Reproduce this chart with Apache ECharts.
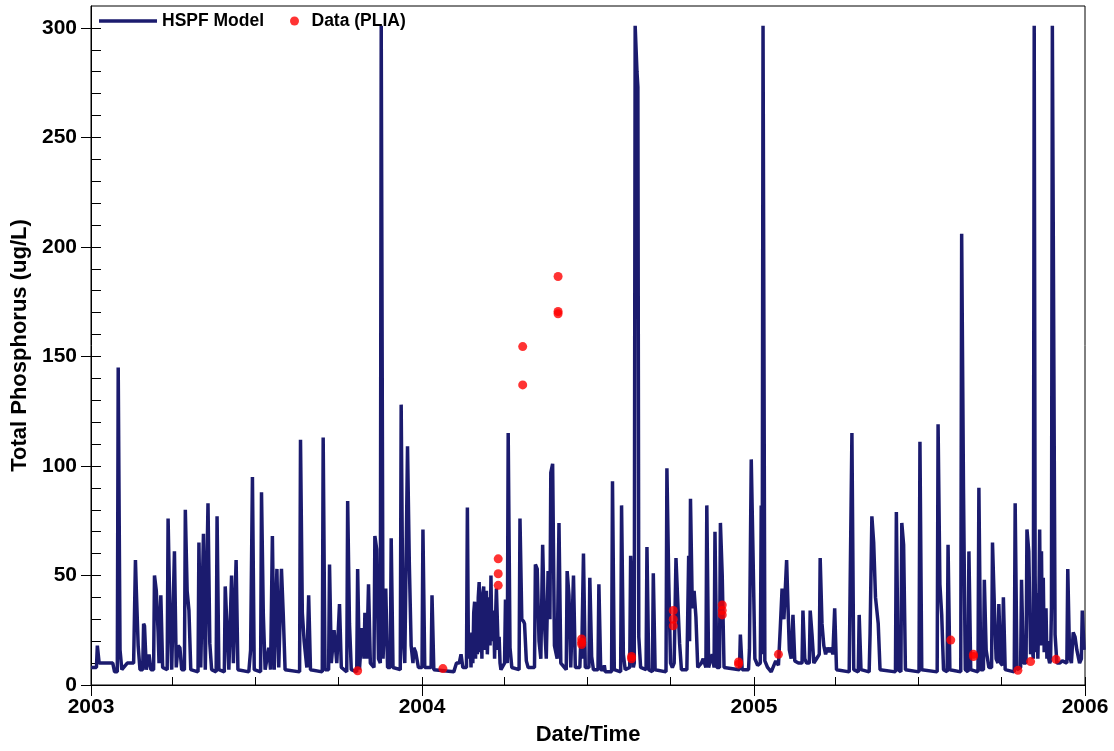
<!DOCTYPE html>
<html>
<head>
<meta charset="utf-8">
<script src="https://cdn.jsdelivr.net/npm/echarts@6/dist/echarts.min.js"></script>
<style>
  html, body { margin: 0; background: #fff; }
  #chart { width: 1114px; height: 751px; }
</style>
</head>
<body>
<div id="chart"></div>
<script>
// HSPF model, total phosphorus (ug/L)
const hspfModel = [
  ['2003-01-01', 8], ['2003-01-07', 8], ['2003-01-08', 18], ['2003-01-10', 10], ['2003-01-25', 10], ['2003-01-27', 6],
  ['2003-01-30', 6], ['2003-01-31', 145], ['2003-02-02', 16], ['2003-02-04', 7], ['2003-02-10', 10], ['2003-02-17', 10],
  ['2003-02-19', 57], ['2003-02-20', 43], ['2003-02-22', 18], ['2003-02-24', 7], ['2003-02-27', 7], ['2003-02-28', 28],
  ['2003-03-01', 27], ['2003-03-03', 7], ['2003-03-06', 14], ['2003-03-08', 7], ['2003-03-11', 7], ['2003-03-12', 50],
  ['2003-03-14', 43], ['2003-03-16', 24], ['2003-03-17', 10], ['2003-03-19', 41], ['2003-03-21', 8], ['2003-03-26', 7],
  ['2003-03-27', 76], ['2003-03-29', 33], ['2003-03-31', 7], ['2003-04-03', 61], ['2003-04-05', 8], ['2003-04-07', 18],
  ['2003-04-09', 17], ['2003-04-11', 7], ['2003-04-14', 7], ['2003-04-15', 80], ['2003-04-17', 43], ['2003-04-19', 34],
  ['2003-04-21', 7], ['2003-04-29', 6], ['2003-04-30', 65], ['2003-05-02', 8], ['2003-05-05', 69], ['2003-05-07', 7],
  ['2003-05-10', 83], ['2003-05-12', 19], ['2003-05-14', 7], ['2003-05-19', 6], ['2003-05-20', 77], ['2003-05-22', 7],
  ['2003-05-28', 6], ['2003-05-29', 45], ['2003-05-31', 26], ['2003-06-02', 7], ['2003-06-05', 50], ['2003-06-07', 10],
  ['2003-06-10', 57], ['2003-06-12', 7], ['2003-06-24', 6], ['2003-06-26', 16], ['2003-06-28', 95], ['2003-06-30', 7],
  ['2003-07-07', 6], ['2003-07-08', 88], ['2003-07-10', 32], ['2003-07-12', 7], ['2003-07-16', 17], ['2003-07-18', 7],
  ['2003-07-20', 68], ['2003-07-22', 7], ['2003-07-25', 53], ['2003-07-27', 8], ['2003-07-30', 53], ['2003-08-01', 32],
  ['2003-08-03', 7], ['2003-08-19', 6], ['2003-08-20', 112], ['2003-08-22', 33], ['2003-08-24', 20], ['2003-08-27', 8],
  ['2003-08-29', 41], ['2003-08-31', 7], ['2003-09-13', 6], ['2003-09-14', 113], ['2003-09-16', 7], ['2003-09-20', 7],
  ['2003-09-21', 55], ['2003-09-23', 10], ['2003-09-26', 25], ['2003-09-29', 10], ['2003-10-02', 37], ['2003-10-04', 8],
  ['2003-10-10', 6], ['2003-10-11', 84], ['2003-10-13', 28], ['2003-10-15', 7], ['2003-10-21', 6], ['2003-10-22', 53],
  ['2003-10-24', 7], ['2003-10-27', 26], ['2003-10-29', 12], ['2003-10-30', 33], ['2003-11-01', 12], ['2003-11-03', 46],
  ['2003-11-05', 10], ['2003-11-09', 8], ['2003-11-10', 68], ['2003-11-12', 62], ['2003-11-14', 12], ['2003-11-16', 10],
  ['2003-11-17', 301], ['2003-11-19', 12], ['2003-11-22', 44], ['2003-11-24', 8], ['2003-11-27', 8], ['2003-11-28', 67],
  ['2003-11-30', 8], ['2003-12-08', 7], ['2003-12-09', 128], ['2003-12-11', 23], ['2003-12-13', 10], ['2003-12-16', 109],
  ['2003-12-18', 55], ['2003-12-20', 18], ['2003-12-22', 10], ['2003-12-23', 17], ['2003-12-25', 15], ['2003-12-28', 8],
  ['2004-01-01', 8], ['2004-01-02', 71], ['2004-01-04', 8], ['2004-01-11', 8], ['2004-01-12', 41], ['2004-01-14', 7],
  ['2004-02-05', 6], ['2004-02-08', 10], ['2004-02-11', 10], ['2004-02-13', 14], ['2004-02-15', 8], ['2004-02-19', 8],
  ['2004-02-20', 81], ['2004-02-21', 24], ['2004-02-22', 12], ['2004-02-23', 20], ['2004-02-24', 8], ['2004-02-25', 24],
  ['2004-02-26', 10], ['2004-02-27', 33], ['2004-02-28', 38], ['2004-02-29', 12], ['2004-03-01', 30], ['2004-03-02', 14],
  ['2004-03-03', 40], ['2004-03-04', 47], ['2004-03-05', 15], ['2004-03-06', 35], ['2004-03-07', 12], ['2004-03-08', 42],
  ['2004-03-09', 45], ['2004-03-10', 16], ['2004-03-11', 38], ['2004-03-12', 43], ['2004-03-13', 14], ['2004-03-14', 28],
  ['2004-03-15', 40], ['2004-03-16', 18], ['2004-03-17', 50], ['2004-03-18', 20], ['2004-03-19', 32], ['2004-03-20', 34],
  ['2004-03-21', 12], ['2004-03-22', 30], ['2004-03-23', 44], ['2004-03-24', 44], ['2004-03-25', 16], ['2004-03-26', 22],
  ['2004-03-27', 10], ['2004-03-28', 7], ['2004-04-01', 10], ['2004-04-02', 39], ['2004-04-03', 12], ['2004-04-04', 10],
  ['2004-04-05', 115], ['2004-04-07', 17], ['2004-04-09', 8], ['2004-04-17', 7], ['2004-04-18', 76], ['2004-04-20', 30],
  ['2004-04-22', 29], ['2004-04-23', 28], ['2004-04-25', 11], ['2004-04-27', 8], ['2004-05-04', 8], ['2004-05-05', 55],
  ['2004-05-07', 53], ['2004-05-09', 20], ['2004-05-11', 12], ['2004-05-13', 64], ['2004-05-15', 28], ['2004-05-17', 12],
  ['2004-05-19', 52], ['2004-05-21', 30], ['2004-05-22', 97], ['2004-05-24', 101], ['2004-05-26', 18], ['2004-05-29', 12],
  ['2004-05-31', 74], ['2004-06-02', 10], ['2004-06-08', 7], ['2004-06-09', 52], ['2004-06-11', 41], ['2004-06-13', 8],
  ['2004-06-15', 8], ['2004-06-16', 50], ['2004-06-18', 8], ['2004-06-23', 8], ['2004-06-24', 20], ['2004-06-25', 12],
  ['2004-06-27', 60], ['2004-06-29', 8], ['2004-07-03', 8], ['2004-07-04', 49], ['2004-07-06', 13], ['2004-07-08', 7],
  ['2004-07-13', 7], ['2004-07-14', 46], ['2004-07-16', 7], ['2004-07-19', 7], ['2004-07-20', 9], ['2004-07-21', 6],
  ['2004-07-28', 6], ['2004-07-29', 93], ['2004-07-31', 7], ['2004-08-07', 6], ['2004-08-08', 82], ['2004-08-10', 14],
  ['2004-08-12', 7], ['2004-08-17', 8], ['2004-08-18', 59], ['2004-08-19', 50], ['2004-08-21', 8], ['2004-08-22', 10],
  ['2004-08-23', 301], ['2004-08-24', 301], ['2004-08-25', 280], ['2004-08-26', 273], ['2004-08-27', 22], ['2004-08-29', 8],
  ['2004-09-04', 7], ['2004-09-05', 63], ['2004-09-07', 7], ['2004-09-11', 6], ['2004-09-12', 51], ['2004-09-14', 7],
  ['2004-09-26', 6], ['2004-09-27', 99], ['2004-09-29', 48], ['2004-10-01', 10], ['2004-10-03', 8], ['2004-10-05', 10],
  ['2004-10-07', 58], ['2004-10-09', 38], ['2004-10-11', 19], ['2004-10-13', 7], ['2004-10-19', 7], ['2004-10-21', 59],
  ['2004-10-22', 20], ['2004-10-23', 85], ['2004-10-25', 35], ['2004-10-27', 43], ['2004-10-29', 31], ['2004-10-31', 8],
  ['2004-11-04', 10], ['2004-11-06', 12], ['2004-11-09', 8], ['2004-11-10', 82], ['2004-11-12', 8], ['2004-11-16', 14],
  ['2004-11-18', 8], ['2004-11-19', 70], ['2004-11-21', 8], ['2004-11-24', 8], ['2004-11-25', 74], ['2004-11-27', 50],
  ['2004-11-29', 8], ['2004-12-16', 7], ['2004-12-17', 23], ['2004-12-19', 7], ['2004-12-26', 7], ['2004-12-27', 16],
  ['2004-12-29', 103], ['2004-12-31', 59], ['2005-01-02', 12], ['2005-01-05', 9], ['2005-01-08', 10], ['2005-01-09', 82],
  ['2005-01-10', 14], ['2005-01-11', 301], ['2005-01-13', 11], ['2005-01-16', 8], ['2005-01-20', 6], ['2005-01-25', 11],
  ['2005-01-28', 9], ['2005-01-30', 26], ['2005-02-01', 44], ['2005-02-03', 30], ['2005-02-06', 57], ['2005-02-07', 43],
  ['2005-02-09', 16], ['2005-02-11', 12], ['2005-02-13', 32], ['2005-02-15', 11], ['2005-02-19', 10], ['2005-02-23', 10],
  ['2005-02-24', 34], ['2005-02-26', 12], ['2005-02-28', 10], ['2005-03-03', 10], ['2005-03-04', 34], ['2005-03-06', 23],
  ['2005-03-08', 10], ['2005-03-11', 12], ['2005-03-14', 14], ['2005-03-15', 58], ['2005-03-17', 28], ['2005-03-19', 18],
  ['2005-03-21', 14], ['2005-03-23', 17], ['2005-03-25', 15], ['2005-03-27', 17], ['2005-03-29', 14], ['2005-03-31', 35],
  ['2005-04-02', 7], ['2005-04-16', 6], ['2005-04-17', 43], ['2005-04-19', 115], ['2005-04-21', 7], ['2005-04-26', 6],
  ['2005-04-27', 32], ['2005-04-29', 7], ['2005-05-08', 6], ['2005-05-09', 23], ['2005-05-11', 77], ['2005-05-13', 65],
  ['2005-05-15', 40], ['2005-05-18', 28], ['2005-05-20', 7], ['2005-06-06', 6], ['2005-06-07', 79], ['2005-06-09', 7],
  ['2005-06-12', 6], ['2005-06-13', 74], ['2005-06-15', 64], ['2005-06-17', 7], ['2005-07-02', 6], ['2005-07-03', 111],
  ['2005-07-05', 7], ['2005-07-22', 6], ['2005-07-23', 119], ['2005-07-25', 46], ['2005-07-27', 32], ['2005-07-29', 7],
  ['2005-08-02', 6], ['2005-08-03', 64], ['2005-08-05', 7], ['2005-08-17', 6], ['2005-08-18', 206], ['2005-08-20', 90],
  ['2005-08-22', 7], ['2005-08-25', 6], ['2005-08-26', 61], ['2005-08-28', 7], ['2005-09-05', 6], ['2005-09-06', 90],
  ['2005-09-08', 7], ['2005-09-11', 7], ['2005-09-12', 48], ['2005-09-14', 16], ['2005-09-17', 8], ['2005-09-20', 8],
  ['2005-09-21', 65], ['2005-09-23', 37], ['2005-09-25', 12], ['2005-09-27', 10], ['2005-09-28', 37], ['2005-09-30', 10],
  ['2005-10-02', 9], ['2005-10-03', 40], ['2005-10-05', 7], ['2005-10-15', 6], ['2005-10-16', 83], ['2005-10-18', 7],
  ['2005-10-22', 8], ['2005-10-23', 48], ['2005-10-25', 10], ['2005-10-28', 10], ['2005-10-29', 71], ['2005-10-31', 61],
  ['2005-11-02', 14], ['2005-11-03', 20], ['2005-11-05', 12], ['2005-11-06', 301], ['2005-11-07', 50], ['2005-11-08', 15],
  ['2005-11-09', 42], ['2005-11-10', 12], ['2005-11-11', 30], ['2005-11-12', 71], ['2005-11-13', 18], ['2005-11-14', 61],
  ['2005-11-15', 20], ['2005-11-16', 49], ['2005-11-17', 15], ['2005-11-18', 23], ['2005-11-19', 35], ['2005-11-20', 12],
  ['2005-11-21', 20], ['2005-11-22', 12], ['2005-11-23', 10], ['2005-11-24', 11], ['2005-11-25', 35], ['2005-11-26', 301],
  ['2005-11-27', 301], ['2005-11-29', 23], ['2005-12-01', 10], ['2005-12-04', 10], ['2005-12-07', 11], ['2005-12-12', 10],
  ['2005-12-13', 53], ['2005-12-15', 13], ['2005-12-17', 10], ['2005-12-19', 24], ['2005-12-21', 22], ['2005-12-23', 16],
  ['2005-12-26', 10], ['2005-12-28', 12], ['2005-12-29', 34], ['2005-12-31', 16]
];

// observed samples (PLIA)
const pliaData = [
  ['2003-10-22', 6.5], ['2004-01-24', 7.5],
  ['2004-03-25', 57.6], ['2004-03-25', 50.8], ['2004-03-25', 45.5],
  ['2004-04-21', 154.5], ['2004-04-21', 137],
  ['2004-05-30', 186.5], ['2004-05-30', 170.5], ['2004-05-30', 169.5],
  ['2004-06-25', 21], ['2004-06-25', 19.5], ['2004-06-25', 18.5],
  ['2004-08-19', 13], ['2004-08-19', 12],
  ['2004-10-04', 34], ['2004-10-04', 30], ['2004-10-04', 27],
  ['2004-11-27', 36.5], ['2004-11-27', 34], ['2004-11-27', 32],
  ['2004-12-15', 9.5], ['2004-12-15', 10.5],
  ['2005-01-28', 14], ['2005-08-06', 20.5],
  ['2005-08-31', 13], ['2005-08-31', 14],
  ['2005-10-19', 6.7], ['2005-11-02', 10.7], ['2005-11-30', 11.7]
];

const yearTicks = ['2003-01-01', '2004-01-01', '2005-01-01', '2006-01-01'];
const yearLabels = ['2003', '2004', '2005', '2006'];
const quarterTicks = [
  '2003-01-01', '2003-04-01', '2003-07-01', '2003-10-01',
  '2004-01-01', '2004-04-01', '2004-07-01', '2004-10-01',
  '2005-01-01', '2005-04-01', '2005-07-01', '2005-10-01', '2006-01-01'
];
const yTicks = [0, 50, 100, 150, 200, 250, 300];
const yMinorTicks = [];
for (let v = 0; v <= 300; v += 10) yMinorTicks.push(v);

// days since 2003-01-01
function dayOf(s) {
  const p = s.split('-');
  return (Date.UTC(+p[0], +p[1] - 1, +p[2]) - Date.UTC(2003, 0, 1)) / 86400000;
}

const yearDays = yearTicks.map(dayOf);
const font = 'Liberation Sans, Arial, sans-serif';
const navy = '#1b1b6e';

let myChart = echarts.init(document.getElementById('chart'));
myChart.setOption({
  animation: false,
  backgroundColor: '#fff',
  grid: {
    left: 91, right: 29, top: 6, bottom: 64.5,
    show: true, borderColor: '#000', borderWidth: 1, backgroundColor: 'transparent'
  },
  legend: [
    {
      data: [{ name: 'HSPF Model', icon: 'rect' }], left: 99, top: 12, padding: 0,
      itemWidth: 58, itemHeight: 3.5,
      selectedMode: false,
      textStyle: { fontFamily: font, fontWeight: 'bold', fontSize: 17.5, color: '#000' }
    },
    {
      data: [{ name: 'Data (PLIA)', icon: 'circle' }], left: 285, top: 7, itemWidth: 24, itemHeight: 9,
      selectedMode: false,
      textStyle: { fontFamily: font, fontWeight: 'bold', fontSize: 17.5, color: '#000' }
    }
  ],
  xAxis: [
    {
      type: 'value', min: 0, max: dayOf('2006-01-01'), position: 'bottom',
      name: 'Date/Time', nameLocation: 'middle', nameGap: 39,
      nameTextStyle: { fontFamily: font, fontWeight: 'bold', fontSize: 22, color: '#000' },
      axisLine: { show: true, onZero: false, lineStyle: { color: '#000', width: 1 } },
      axisTick: { show: true, length: 11, customValues: yearDays, lineStyle: { color: '#000' } },
      axisLabel: {
        customValues: yearDays, margin: 12,
        fontFamily: font, fontWeight: 'bold', fontSize: 21, color: '#000',
        formatter: function (v) { return yearLabels[yearDays.indexOf(v)] || ''; }
      },
      splitLine: { show: false }
    },
    {
      // quarter ticks, pointing into the plot
      type: 'value', min: 0, max: dayOf('2006-01-01'), position: 'bottom',
      axisLine: { show: false, onZero: false },
      axisTick: { show: true, inside: true, length: 8, customValues: quarterTicks.map(dayOf), lineStyle: { color: '#000' } },
      axisLabel: { show: false },
      splitLine: { show: false }
    }
  ],
  yAxis: [
    {
      type: 'value', min: 0, max: 310, position: 'left',
      name: 'Total Phosphorus (ug/L)', nameLocation: 'middle', nameGap: 56, nameRotate: 90,
      nameTextStyle: { fontFamily: font, fontWeight: 'bold', fontSize: 22, color: '#000' },
      axisLine: { show: true, onZero: false, lineStyle: { color: '#000', width: 1 } },
      axisTick: { show: true, length: 10, customValues: yTicks, lineStyle: { color: '#000' } },
      axisLabel: {
        customValues: yTicks, margin: 14,
        fontFamily: font, fontWeight: 'bold', fontSize: 21, color: '#000'
      },
      splitLine: { show: false }
    },
    {
      type: 'value', min: 0, max: 310, position: 'left',
      axisLine: { show: false, onZero: false },
      axisTick: { show: true, inside: true, length: 10, customValues: yMinorTicks, lineStyle: { color: '#000' } },
      axisLabel: { show: false },
      splitLine: { show: false }
    }
  ],
  series: [
    {
      name: 'HSPF Model',
      type: 'line',
      xAxisIndex: 0, yAxisIndex: 0,
      symbol: 'none',
      silent: true,
      lineStyle: { color: navy, width: 3.5, join: 'bevel' },
      itemStyle: { color: navy },
      data: hspfModel.map(p => [dayOf(p[0]), p[1]])
    },
    {
      name: 'Data (PLIA)',
      type: 'scatter',
      xAxisIndex: 0, yAxisIndex: 0,
      symbol: 'circle',
      symbolSize: 9,
      z: 5,
      itemStyle: { color: '#ff0000' },
      data: pliaData.map(p => [dayOf(p[0]), p[1]])
    }
  ]
});
</script>
</body>
</html>
